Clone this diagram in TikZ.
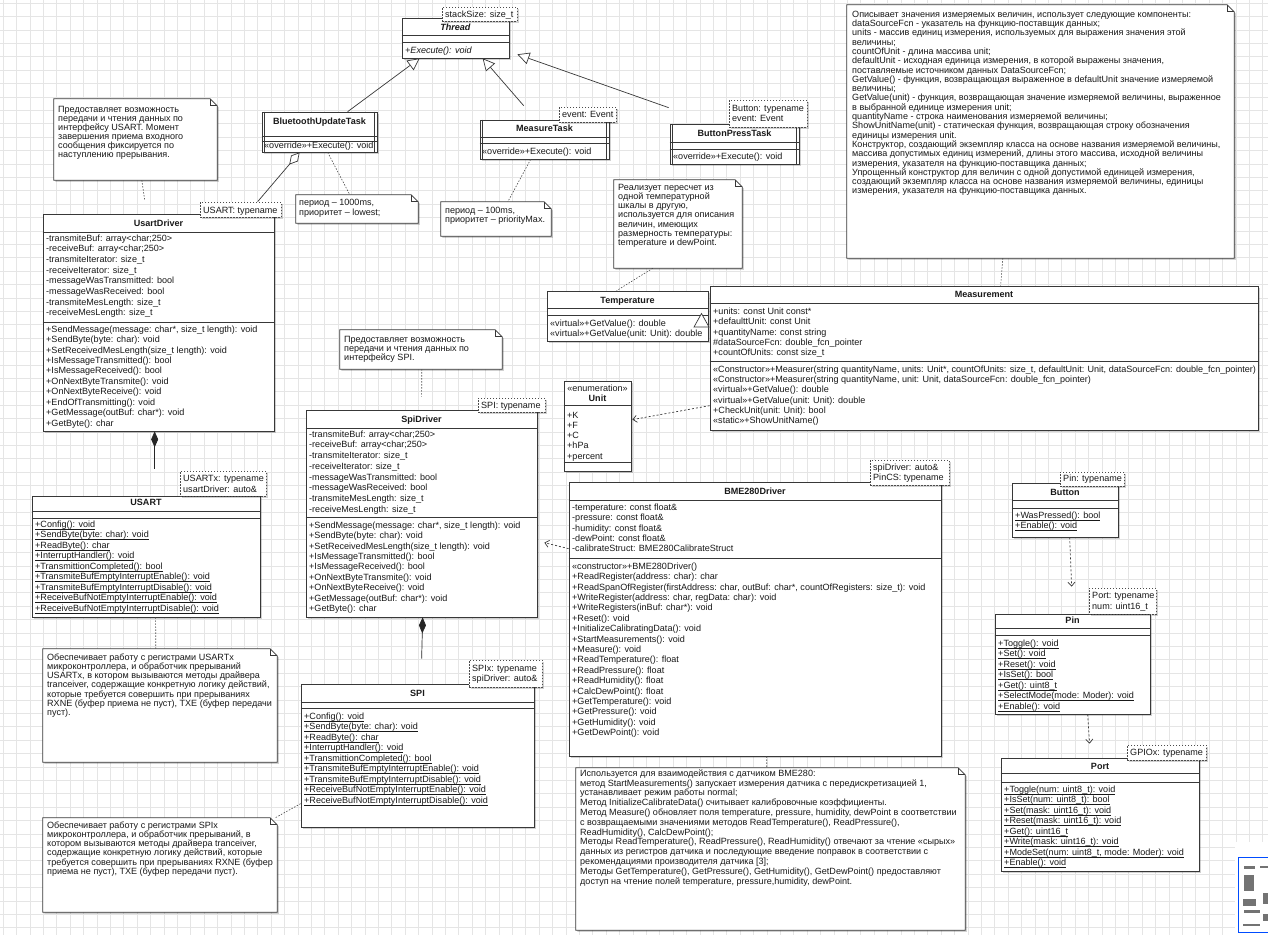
\documentclass[tikz,border=0pt]{standalone}
\usepackage{fontspec}
\setmainfont{Liberation Sans}
\usetikzlibrary{arrows.meta,fit,shadows}
\newcommand\umlfs[1]{\fontsize{9.05}{#1}\selectfont\lineskiplimit=-100pt\lineskip=0pt\relax}
\newcommand\umlfl{\rule{0pt}{9pt}}
\newcommand\umlul[1]{\leavevmode\setbox0\hbox{#1}\rlap{\rule[-2pt]{\wd0}{0.6pt}}\box0}
\tikzset{
  gridln/.style={draw=black!10, line width=0.5pt},
  shd/.style={drop shadow={shadow xshift=1.6pt, shadow yshift=-1.6pt, opacity=0.18, fill=black}},
  clsbox/.style={draw=black!78, line width=0.7pt, fill=white, inner sep=0pt, shd},
  sepline/.style={draw=black!78, line width=0.7pt},
  ttl/.style={font=\bfseries\umlfs{11}, text=black!90, inner sep=0pt, anchor=base},
  cmpc/.style={font=\umlfs{11}, text=black!90, inner sep=0pt, anchor=base},
  cmp/.style={anchor=north west, inner sep=0pt, align=left, text=black!90},
  tplbox/.style={draw=black!70, dash pattern=on 1.5pt off 1.5pt, line width=0.7pt, fill=white, inner sep=0pt, shd},
  noteline/.style={draw=black!78, line width=0.7pt, fill=white, shd},
  anc/.style={draw=black!70, line width=0.6pt, dash pattern=on 1.5pt off 1.5pt},
  gen/.style={draw=black!78, line width=0.7pt, -{Triangle[length=12pt,width=12pt,fill=white]}},
  agg/.style={draw=black!78, line width=0.7pt, {Diamond[length=16pt,width=9pt,fill=white]}-},
  comp/.style={draw=black!85, line width=0.7pt, {Diamond[length=16pt,width=7pt]}-},
  dep/.style={draw=black!78, line width=0.7pt, dash pattern=on 2pt off 2pt, -{Straight Barb[length=4pt,width=7pt]}},
  mmblk/.style={fill=black!55},
}
\newcommand\umlcls[5]{\node[clsbox, fit={(#2,#3) (#4,#5)}] (#1) {};}
\newcommand\umlhl[2]{\draw[sepline] (#1.west |- 0,#2) -- (#1.east |- 0,#2);}
\newcommand\umlact[1]{\draw[sepline] ([xshift=3pt]#1.north west) -- ([xshift=3pt]#1.south west) ([xshift=-3pt]#1.north east) -- ([xshift=-3pt]#1.south east);}
\newcommand\umlttl[4]{\node[ttl] (#1) at (#2,#3) {#4};}
\newcommand\umlcmp[5]{\node[cmp, font=\umlfs{#4}] (#1) at (#2,{#3-9}) {\umlfl#5};}
\newcommand\umltpl[7]{\node[tplbox, fit={(#2,#3) (#4,#5)}] (#1) {};\node[cmp, font=\umlfs{10.5}] (#1-t) at ({#2+3},{#6-9}) {\umlfl#7};}
\newcommand\umlnote[5]{\node[inner sep=0pt, fit={(#2,#3) (#4,#5)}] (#1) {};
  \draw[noteline] (#1.north west) -- ([xshift=-7pt]#1.north east) -- ([yshift=-7pt]#1.north east) -- (#1.south east) -- (#1.south west) -- cycle;
  \draw[sepline] ([xshift=-7pt]#1.north east) -- ([xshift=-7pt,yshift=-7pt]#1.north east) -- ([yshift=-7pt]#1.north east);}
\begin{document}
\begin{tikzpicture}[x=1pt,y=-1pt]
\useasboundingbox (0,0) rectangle (1268,935);
\fill[white] (0,0) rectangle (1268,935);
\foreach \i in {0,...,95} {\draw[gridln] ({3+\i*13.4},0) -- ({3+\i*13.4},935);}
\foreach \j in {0,...,70} {\draw[gridln] (0,{3+\j*13.4}) -- (1268,{3+\j*13.4});}

% ---------- Thread
\umlcls{thread}{402}{18}{509}{58}
\umlhl{thread}{35}\umlhl{thread}{42}
\umlttl{thread-t}{455.5}{30}{\textit{Thread}}
\umlcmp{thread-m}{405}{53}{10.5}{\textit{+Execute(): void}}
\umltpl{thread-p}{442}{7}{517}{21}{17}{stackSize: size\_t}

% ---------- tasks
\umlcls{bt}{262}{112}{377}{152}\umlact{bt}
\umlhl{bt}{136}\umlhl{bt}{141}
\umlttl{bt-t}{319.5}{124}{BluetoothUpdateTask}
\umlcmp{bt-m}{264}{148}{10.5}{«override»+Execute(): void}

\umlcls{mt}{480}{120}{609}{159}\umlact{mt}
\umlhl{mt}{137}\umlhl{mt}{143}
\umlttl{mt-t}{544.5}{131}{MeasureTask}
\umlcmp{mt-m}{482}{154}{10.5}{«override»+Execute(): void}
\umltpl{mt-p}{559}{107}{616}{122}{117.5}{event: Event}

\umlcls{bp}{670}{124}{799}{164}\umlact{bp}
\umlhl{bp}{142}\umlhl{bp}{149}
\umlttl{bp-t}{734.5}{136.5}{ButtonPressTask}
\umlcmp{bp-m}{673}{159}{10.5}{«override»+Execute(): void}
\umltpl{bp-p}{729}{100}{807}{127}{111}{Button: typename\\event: Event}

\draw[gen] ([xshift=86pt]bt.north west) -- ([xshift=18pt]thread.south west);
\draw[gen] ([xshift=44pt,yshift=14pt]mt.north west) -- ([xshift=81pt]thread.south west);
\draw[gen] ([xshift=-1pt,yshift=16pt]bp.north west) -- ([xshift=8pt,yshift=4pt]thread.south east);

% ---------- notes top-left
\umlnote{n1}{54}{99}{217}{180}
\umlcmp{n1-t}{58}{112}{9.1}{Предоставляет возможность\\передачи и чтения данных по\\интерфейсу USART. Момент\\завершения приема входного\\сообщения фиксируется по\\наступлению прерывания.}

\umlnote{npr1}{296}{195}{418}{223}
\umlcmp{npr1-t}{299}{205}{10}{период – 1000ms,\\приоритет – lowest;}
\draw[anc] ([xshift=66pt]bt.south west) -- ([xshift=54pt]npr1.north west);

\umlnote{npr2}{441}{202}{551}{236}
\umlcmp{npr2-t}{445}{213}{9}{период – 100ms,\\приоритет – priorityMax.}
\draw[anc] ([xshift=51pt]mt.south west) -- ([xshift=67pt]npr2.north west);

% ---------- UsartDriver
\umlcls{ud}{43}{214}{274}{431}
\umlhl{ud}{232}\umlhl{ud}{322}
\umlttl{ud-t}{158.5}{226}{UsartDriver}
\umlcmp{ud-a}{46}{241}{10.67}{-transmiteBuf: array<char;250>\\-receiveBuf: array<char;250>\\-transmiteIterator: size\_t\\-receiveIterator: size\_t\\-messageWasTransmitted: bool\\-messageWasReceived: bool\\-transmiteMesLength: size\_t\\-receiveMesLength: size\_t}
\umlcmp{ud-m}{46}{332}{10.44}{+SendMessage(message: char*, size\_t length): void\\+SendByte(byte: char): void\\+SetReceivedMesLength(size\_t length): void\\+IsMessageTransmitted(): bool\\+IsMessageReceived(): bool\\+OnNextByteTransmite(): void\\+OnNextByteReceive(): void\\+EndOfTransmitting(): void\\+GetMessage(outBuf: char*): void\\+GetByte(): char}
\umltpl{ud-p}{200}{202}{281}{217}{213}{USART: typename}
\draw[anc] ([xshift=88pt]n1.south west) -- ([xshift=102pt,yshift=14pt]ud.north west);
\draw[agg] ([xshift=38pt]bt.south west) -- ([xshift=58pt]ud-p.north west);

% ---------- USART
\umlcls{usart}{32}{496}{260}{617}
\umlhl{usart}{511}\umlhl{usart}{518}
\umlttl{usart-t}{146}{505}{USART}
\umlcmp{usart-m}{35}{527}{10.5}{\umlul{+Config(): void}\\\umlul{+SendByte(byte: char): void}\\\umlul{+ReadByte(): char}\\\umlul{+InterruptHandler(): void}\\\umlul{+TransmittionCompleted(): bool}\\\umlul{+TransmiteBufEmptyInterruptEnable(): void}\\\umlul{+TransmiteBufEmptyInterruptDisable(): void}\\\umlul{+ReceiveBufNotEmptyInterruptEnable(): void}\\\umlul{+ReceiveBufNotEmptyInterruptDisable(): void}}
\umltpl{usart-p}{180}{471}{266}{496}{481.5}{USARTx: typename\\usartDriver: auto\&}
\draw[comp] ([xshift=112pt]ud.south west) -- ([xshift=123pt,yshift=27pt]usart.north west);

\umlnote{n2}{43}{649}{277}{762}
\umlcmp{n2-t}{47}{660}{9.2}{Обеспечивает работу с регистрами USARTx\\микроконтроллера, и обработчик прерываний\\USARTx, в котором вызываются методы драйвера\\tranceiver, содержащие конкретную логику действий,\\которые требуется совершить при прерываниях\\RXNE (буфер приема не пуст), TXE (буфер передачи\\пуст).}
\draw[anc] ([xshift=124pt]usart.south west) -- ([xshift=113pt]n2.north west);

% ---------- SpiDriver
\umlnote{ns1}{340}{330}{502}{369}
\umlcmp{ns1-t}{344}{342}{9}{Предоставляет возможность\\передачи и чтения данных по\\интерфейсу SPI.}
\umlcls{sd}{306}{410}{537}{617}
\umlhl{sd}{428}\umlhl{sd}{517}
\umlttl{sd-t}{421.5}{422}{SpiDriver}
\umlcmp{sd-a}{309}{437}{10.7}{-transmiteBuf: array<char;250>\\-receiveBuf: array<char;250>\\-transmiteIterator: size\_t\\-receiveIterator: size\_t\\-messageWasTransmitted: bool\\-messageWasReceived: bool\\-transmiteMesLength: size\_t\\-receiveMesLength: size\_t}
\umlcmp{sd-m}{309}{528}{10.4}{+SendMessage(message: char*, size\_t length): void\\+SendByte(byte: char): void\\+SetReceivedMesLength(size\_t length): void\\+IsMessageTransmitted(): bool\\+IsMessageReceived(): bool\\+OnNextByteTransmite(): void\\+OnNextByteReceive(): void\\+GetMessage(outBuf: char*): void\\+GetByte(): char}
\umltpl{sd-p}{478}{398}{545}{412}{408.5}{SPI: typename}
\draw[anc] ([xshift=82pt]ns1.south west) -- ([xshift=116pt,yshift=13pt]sd.north west);

% ---------- SPI
\umlcls{spi}{301}{684}{534}{827}
\umlhl{spi}{702}\umlhl{spi}{708}
\umlttl{spi-t}{417.5}{696.5}{SPI}
\umlcmp{spi-m}{304}{719}{10.5}{\umlul{+Config(): void}\\\umlul{+SendByte(byte: char): void}\\\umlul{+ReadByte(): char}\\\umlul{+InterruptHandler(): void}\\\umlul{+TransmittionCompleted(): bool}\\\umlul{+TransmiteBufEmptyInterruptEnable(): void}\\\umlul{+TransmiteBufEmptyInterruptDisable(): void}\\\umlul{+ReceiveBufNotEmptyInterruptEnable(): void}\\\umlul{+ReceiveBufNotEmptyInterruptDisable(): void}}
\umltpl{spi-p}{469}{660}{542}{687}{671}{SPIx: typename\\spiDriver: auto\&}
\draw[comp] ([xshift=117pt]sd.south west) -- ([xshift=121pt,yshift=25pt]spi.north west);

\umlnote{n3}{43}{818}{277}{912}
\umlcmp{n3-t}{47}{828}{9.2}{Обеспечивает работу с регистрами SPIx\\микроконтроллера, и обработчик прерываний, в\\котором вызываются методы драйвера tranceiver,\\содержащие конкретную логику действий, которые\\требуется совершить при прерываниях RXNE (буфер\\приема не пуст), TXE (буфер передачи пуст).}
\draw[anc] ([yshift=-120pt]spi.north west) -- ([xshift=-2pt]n3.north east);

% ---------- Temperature
\umlnote{nt}{614}{180}{742}{268}
\umlcmp{nt-t}{618}{190}{9.2}{Реализует пересчет из\\одной температурной\\шкалы в другую,\\используется для описания\\величин, имеющих\\размерность температуры:\\temperature и dewPoint.}
\umlcls{temp}{547}{291}{708}{341}
\umlhl{temp}{308}\umlhl{temp}{315}
\umlttl{temp-t}{627.5}{303}{Temperature}
\umlcmp{temp-m}{550}{326}{10}{«virtual»+GetValue(): double\\«virtual»+GetValue(unit: Unit): double}
\draw[anc] ([xshift=39pt]nt.south west) -- ([xshift=70pt]temp.north west);

% ---------- Measurement
\umlnote{nm}{847}{5}{1234}{258}
\umlcmp{nm-t}{852}{17}{9.3}{Описывает значения измеряемых величин, использует следующие компоненты:\\dataSourceFcn - указатель на функцию-поставщик данных;\\units - массив единиц измерения, используемых для выражения значения этой\\величины;\\countOfUnit - длина массива unit;\\defaultUnit - исходная единица измерения, в которой выражены значения,\\поставляемые источником данных DataSourceFcn;\\GetValue() - функция, возвращающая выраженное в defaultUnit значение измеряемой\\величины;\\GetValue(unit) - функция, возвращающая значение измеряемой величины, выраженное\\в выбранной единице измерения unit;\\quantityName - строка наименования измеряемой величины;\\ShowUnitName(unit) - статическая функция, возвращающая строку обозначения\\единицы измерения unit.\\Конструктор, создающий экземпляр класса на основе названия измеряемой величины,\\массива допустимых единиц измерений, длины этого массива, исходной величины\\измерения, указателя на функцию-поставщика данных;\\Упрощенный конструктор для величин с одной допустимой единицей измерения,\\создающий экземпляр класса на основе названия измеряемой величины, единицы\\измерения, указателя на функцию-поставщика данных.}
\umlcls{meas}{710}{286}{1258}{430}
\umlhl{meas}{303}\umlhl{meas}{361}
\umlttl{meas-t}{984}{297.5}{Measurement}
\umlcmp{meas-a}{713}{314}{10.4}{+units: const Unit const*\\+defaulttUnit: const Unit\\+quantityName: const string\\\#dataSourceFcn: double\_fcn\_pointer\\+countOfUnits: const size\_t}
\umlcmp{meas-m}{713}{372}{10.3}{«Constructor»+Measurer(string quantityName, units: Unit*, countOfUnits: size\_t, defaultUnit: Unit, dataSourceFcn: double\_fcn\_pointer)\\«Constructor»+Measurer(string quantityName, unit: Unit, dataSourceFcn: double\_fcn\_pointer)\\«virtual»+GetValue(): double\\«virtual»+GetValue(unit: Unit): double\\+CheckUnit(unit: Unit): bool\\«static»+ShowUnitName()}
\draw[anc] ([xshift=156pt]nm.south west) -- ([xshift=291pt]meas.north west);
\draw[sepline, fill=white] (701.5,313.5) -- (709,327) -- (694,327) -- cycle;

% ---------- Unit
\umlcls{unit}{564}{381}{631}{471}
\umlhl{unit}{405}\umlhl{unit}{462}
\node[cmpc] (unit-s) at (597.5,391) {«enumeration»};
\umlttl{unit-t}{597.5}{401.5}{Unit}
\umlcmp{unit-a}{567}{418}{10.2}{+K\\+F\\+C\\+hPa\\+percent}
\draw[dep] ([yshift=-120pt]meas.north west) -- ([xshift=1pt,yshift=-39pt]unit.north east);

% ---------- BME280Driver
\umlcls{bme}{569}{482}{941}{756}
\umlhl{bme}{500}\umlhl{bme}{558}
\umlttl{bme-t}{755}{494}{BME280Driver}
\umlcmp{bme-a}{572}{510}{10.4}{-temperature: const float\&\\-pressure: const float\&\\-humidity: const float\&\\-dewPoint: const float\&\\-calibrateStruct: BME280CalibrateStruct}
\umlcmp{bme-m}{572}{569}{10.4}{«constructor»+BME280Driver()\\+ReadRegister(address: char): char\\+ReadSpanOfRegister(firstAddress: char, outBuf: char*, countOfRegisters: size\_t): void\\+WriteRegister(address: char, regData: char): void\\+WriteRegisters(inBuf: char*): void\\+Reset(): void\\+InitializeCalibratingData(): void\\+StartMeasurements(): void\\+Measure(): void\\+ReadTemperature(): float\\+ReadPressure(): float\\+ReadHumidity(): float\\+CalcDewPoint(): float\\+GetTemperature(): void\\+GetPressure(): void\\+GetHumidity(): void\\+GetDewPoint(): void}
\umltpl{bme-p}{870}{460}{949}{485}{470}{spiDriver: auto\&\\PinCS: typename}
\draw[dep] ([yshift=-67pt]bme.north west) -- ([xshift=7pt,yshift=-133pt]sd.north east);

\umlnote{nb}{576}{768}{965}{930}
\umlcmp{nb-t}{580}{776}{9.8}{Используется для взаимодействия с датчиком BME280:\\метод StartMeasurements() запускает измерения датчика с передискретизацией 1,\\устанавливает режим работы normal;\\Метод InitializeCalibrateData() считывает калибровочные коэффициенты.\\Метод Measure() обновляет поля temperature, pressure, humidity, dewPoint в соответствии\\с возвращаемыми значениями методов ReadTemperature(), ReadPressure(),\\ReadHumidity(), CalcDewPoint();\\Методы ReadTemperature(), ReadPressure(), ReadHumidity() отвечают за чтение «сырых»\\данных из регистров датчика и последующие введение поправок в соответствии с\\рекомендациями производителя датчика [3];\\Методы GetTemperature(), GetPressure(), GetHumidity(), GetDewPoint() предоставляют\\доступ на чтение полей temperature, pressure,humidity, dewPoint.}
\draw[anc] ([xshift=198pt]bme.south west) -- ([xshift=191pt]nb.north west);

% ---------- Button / Pin / Port
\umlcls{btn}{1012}{483}{1118}{537}
\umlhl{btn}{500}\umlhl{btn}{508}
\umlttl{btn-t}{1065}{495.5}{Button}
\umlcmp{btn-m}{1015}{518}{10}{\umlul{+WasPressed(): bool}\\\umlul{+Enable(): void}}
\umltpl{btn-p}{1060}{472}{1124}{486}{481.5}{Pin: typename}

\umlcls{pin}{995}{614}{1150}{714}
\umlhl{pin}{628}\umlhl{pin}{635}
\umlttl{pin-t}{1072.5}{623.5}{Pin}
\umlcmp{pin-m}{998}{646}{10.5}{\umlul{+Toggle(): void}\\\umlul{+Set(): void}\\\umlul{+Reset(): void}\\\umlul{+IsSet(): bool}\\\umlul{+Get(): uint8\_t}\\\umlul{+SelectMode(mode: Moder): void}\\\umlul{+Enable(): void}}
\umltpl{pin-p}{1089}{588}{1156}{614}{598.5}{Port: typename\\num: uint16\_t}
\draw[dep] ([xshift=58pt]btn.south west) -- ([xshift=77pt,yshift=27pt]pin.north west);

\umlcls{port}{1001}{758}{1199}{871}
\umlhl{port}{773}\umlhl{port}{782}
\umlttl{port-t}{1100}{769.5}{Port}
\umlcmp{port-m}{1004}{792}{10.5}{\umlul{+Toggle(num: uint8\_t): void}\\\umlul{+IsSet(num: uint8\_t): bool}\\\umlul{+Set(mask: uint16\_t): void}\\\umlul{+Reset(mask: uint16\_t): void}\\\umlul{+Get(): uint16\_t}\\\umlul{+Write(mask: uint16\_t): void}\\\umlul{+ModeSet(num: uint8\_t, mode: Moder): void}\\\umlul{+Enable(): void}}
\umltpl{port-p}{1127}{745}{1206}{760}{755.5}{GPIOx: typename}
\draw[dep] ([xshift=93pt]pin.south west) -- ([xshift=89pt,yshift=14pt]port.north west);

% ---------- minimap
\node[fill=white, inner sep=0pt, shd, fit={(1235,842) (1272,940)}] (mm) {};
\draw[blue!70!cyan, line width=0.8pt] (1238,857) rectangle (1272,932);
\fill[mmblk] (1244,866) rectangle (1255,869);
\fill[mmblk] (1260,866) rectangle (1268,868);
\fill[mmblk] (1244,875) rectangle (1254,891);
\fill[mmblk] (1243,899) rectangle (1256,906);
\fill[mmblk] (1263,893) rectangle (1268,904);
\fill[mmblk] (1244,910) rectangle (1260,913);
\fill[mmblk] (1263,914) rectangle (1268,921);
\fill[mmblk] (1243,924) rectangle (1260,926);
\end{tikzpicture}
\end{document}
